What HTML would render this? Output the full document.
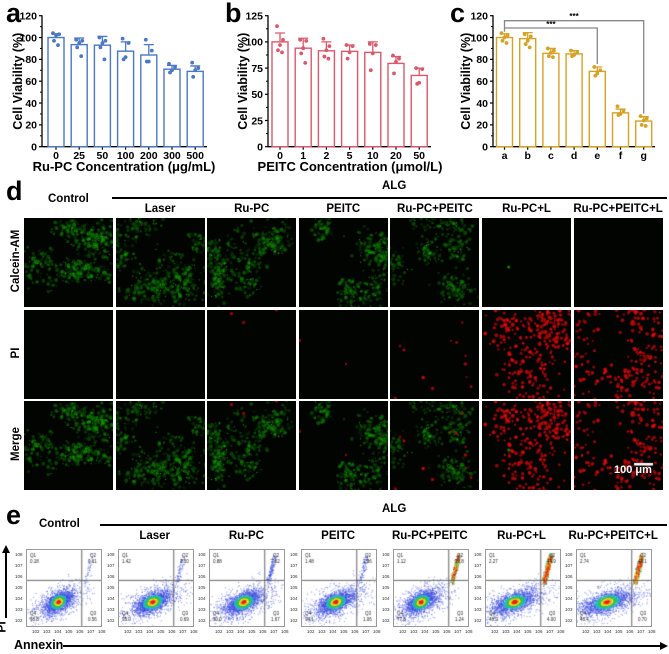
<!DOCTYPE html>
<html><head><meta charset="utf-8">
<style>
html,body{margin:0;padding:0;background:#fff;}
#fig{position:relative;width:669px;height:654px;overflow:hidden;font-family:"Liberation Sans",Arial,sans-serif;}
.t{position:absolute;font-weight:bold;color:#000;white-space:nowrap;}
canvas{position:absolute;}
</style></head>
<body>
<div id="fig">
<svg id="charts" width="669" height="180" style="position:absolute;left:0;top:0" font-family="Liberation Sans, Arial, sans-serif"></svg>

<div class="t" style="left:6px;top:-2px;font-size:27px">a</div>
<div class="t" style="left:225px;top:-2px;font-size:27px">b</div>
<div class="t" style="left:450px;top:-2px;font-size:27px">c</div>
<div class="t" style="left:6px;top:176px;font-size:27px">d</div>
<div class="t" style="left:6px;top:500px;font-size:27px">e</div>

<div class="t" style="left:48px;top:193px;font-size:11.5px">Control</div>
<div class="t" style="left:382px;top:180px;font-size:11.5px">ALG</div>
<div style="position:absolute;left:112px;top:197px;width:555px;height:1.5px;background:#000"></div>
<div class="t" style="left:-19px;top:255px;font-size:11.5px;transform:rotate(-90deg);width:70px;text-align:center">Calcein-AM</div>
<div class="t" style="left:-19px;top:347px;font-size:11.5px;transform:rotate(-90deg);width:70px;text-align:center">PI</div>
<div class="t" style="left:-19px;top:438px;font-size:11.5px;transform:rotate(-90deg);width:70px;text-align:center">Merge</div>

<div class="t" style="left:39px;top:518px;font-size:11.5px">Control</div>
<div class="t" style="left:382px;top:503px;font-size:11.5px">ALG</div>
<div style="position:absolute;left:100px;top:524px;width:567px;height:1.5px;background:#000"></div>
<div class="t" style="left:14px;top:638px;font-size:12.5px">Annexin</div>
<div style="position:absolute;left:63px;top:645px;width:598px;height:2px;background:#000"></div>
<div style="position:absolute;left:660px;top:642px;width:0;height:0;border-top:4px solid transparent;border-bottom:4px solid transparent;border-left:8px solid #000"></div>
<div style="position:absolute;left:5px;top:552px;width:2px;height:66px;background:#000"></div>
<div style="position:absolute;left:2px;top:545px;width:0;height:0;border-left:4px solid transparent;border-right:4px solid transparent;border-bottom:8px solid #000"></div>
<div class="t" style="left:-4px;top:620px;font-size:12px;transform:rotate(-90deg)">PI</div>
</div>

<script>
// ---------- chart data ----------
const catsA=['0','25','50','100','200','300','500'];
const meansA=[100,93.5,93,87.5,84,71,69];
const errA=[3.5,6,8,8.5,9.5,3.5,5];
const dotsA=[[104,103,102,97,93],[98,97,95,91,83],[100,97,95,91,80],[99,95,82,80],[98,88,78,78],[76,73,70,68],[77,72,70,64]];
const ticksA=[0,20,40,60,80,100,120];

const catsB=['0','1','2','5','10','20','50'];
const meansB=[100,94,91.5,91,90,79.5,68];
const errB=[8.5,9.5,8.5,6,10,6.5,7];
const dotsB=[[115,102,97,92,90],[102,101,94,89,80],[103,96,92,86,84],[97,96,90,84],[98,97,89,73],[87,84,81,70],[75,74,61,60]];
const ticksB=[0,25,50,75,100,125];

const catsC=['a','b','c','d','e','f','g'];
const meansC=[100,99,85.5,85,69,31,23.5];
const errC=[3.5,5.5,4.5,3,4,3.5,4];
const dotsC=[[104,102,100,97,95],[103,101,97,94,91],[90,88,86,83,82],[88,86,84,83],[73,70,67,65],[37,33,30,29],[28,26,24,20,19]];
const ticksC=[0,20,40,60,80,100,120];

const flowGroups=['Control','Laser','Ru-PC','PEITC','Ru-PC+PEITC','Ru-PC+L','Ru-PC+PEITC+L'];
const flowQ1=['0.18','1.42','0.88','1.48','1.12','2.27','2.74'];
const flowQ2=['0.61','2.50','7.02','3.36','19.8','44.9','48.1'];
const flowQ3=['0.56','0.69','1.67','1.06','1.24','4.00','0.70'];
const flowQ4=['98.8','95.0','90.0','94.1','77.8','48.9','48.4'];

const NS='http://www.w3.org/2000/svg';
const svg=document.getElementById('charts');
function mk(tag,attrs,parent){const e=document.createElementNS(NS,tag);for(const k in attrs)e.setAttribute(k,attrs[k]);(parent||svg).appendChild(e);return e;}

const Y0=146.7, YH=131;
function drawBars(p){
  const g=mk('g',{});
  
  
  const ymax=p.ticks[p.ticks.length-1];
  const y=v=>Y0-v/ymax*YH;
  const x=i=>p.firstX+i*p.pitch;
  const ya=mk('line',{x1:p.axisX,y1:Y0,x2:p.axisX,y2:y(ymax)-0.5,stroke:'#000','stroke-width':1.3},g);
  
  
  const xa=mk('line',{x1:p.axisX,y1:Y0,x2:p.endX,y2:Y0,stroke:'#000','stroke-width':1.3},g);
  
  
  const step=p.ticks[1]-p.ticks[0];
  p.ticks.forEach((t,k)=>{
    mk('line',{x1:p.axisX-3,y1:y(t),x2:p.axisX,y2:y(t),stroke:'#000','stroke-width':1.2},g);
    if(k<p.ticks.length-1) mk('line',{x1:p.axisX-2,y1:y(t+step/2),x2:p.axisX,y2:y(t+step/2),stroke:'#000','stroke-width':1},g);
    const tl=mk('text',{x:p.axisX-5,y:y(t)+3.8,'text-anchor':'end','font-size':10.5,'font-weight':'bold'},g);
    tl.textContent=t;
    
    
  });
  p.cats.forEach((c,i)=>{
    const cx=x(i);
    mk('line',{x1:cx,y1:Y0,x2:cx,y2:Y0+3,stroke:'#000','stroke-width':1.2},g);
    const xl=mk('text',{x:cx,y:159,'text-anchor':'middle','font-size':10.5,'font-weight':'bold'},g);
    xl.textContent=c;
    
    
    const bar=mk('rect',{x:cx-8,y:y(p.means[i]),width:16,height:Y0-y(p.means[i]),fill:'#fff',stroke:p.color,'stroke-width':1.4},g);
    
    
    const top=y(p.means[i]+p.errs[i]);
    const eb=mk('path',{d:`M${cx},${y(p.means[i])}V${top}M${cx-5},${top}H${cx+5}`,stroke:p.color,'stroke-width':1.3,fill:'none'},g);
    
    
    const jit=[-3,3,0,-2,2];
    p.dots[i].forEach((v,j)=>{
      const d=mk('circle',{cx:cx+jit[j%5],cy:y(v),r:1.9,fill:p.color},g);
      
      
    });
  });
  const yt=mk('text',{x:0,y:0,'text-anchor':'middle','font-size':12.5,'font-weight':'bold',transform:`translate(${p.ytx},${(Y0+y(ymax))/2}) rotate(-90)`},g);
  yt.textContent='Cell Viability (%)';
  
  
  if(p.xtitle){
    const xt=mk('text',{x:p.xtx,y:171,'text-anchor':'middle','font-size':13,'font-weight':'bold'},g);
    xt.textContent=p.xtitle;
    
    
  }
  return {x,y};
}
drawBars({name:'chart-a',axisX:42,firstX:56,pitch:23.2,endX:207,ticks:ticksA,cats:catsA,means:meansA,errs:errA,dots:dotsA,color:'#4a78c2',ytx:22,xtitle:'Ru-PC Concentration (μg/mL)',xtx:124});
drawBars({name:'chart-b',axisX:268,firstX:280,pitch:23.2,endX:431,ticks:ticksB,cats:catsB,means:meansB,errs:errB,dots:dotsB,color:'#d9596c',ytx:247,xtitle:'PEITC Concentration (μmol/L)',xtx:350});
const sc=drawBars({name:'chart-c',axisX:493,firstX:504.5,pitch:23.2,endX:655,ticks:ticksC,cats:catsC,means:meansC,errs:errC,dots:dotsC,color:'#d4a224',ytx:470});
const b1=mk('path',{d:`M${sc.x(0)},${sc.y(meansC[0]+errC[0])-2}V20.7H${sc.x(6)}V${sc.y(meansC[6]+errC[6])-3}`,stroke:'#888','stroke-width':1.3,fill:'none'});


const b2=mk('path',{d:`M${sc.x(0)},28H${sc.x(4)}V${sc.y(meansC[4]+errC[4])-3}`,stroke:'#888','stroke-width':1.3,fill:'none'});


const s1=mk('text',{x:(sc.x(0)+sc.x(6))/2,y:19,'text-anchor':'middle','font-size':8,'font-weight':'bold'});
s1.textContent='***';


const s2=mk('text',{x:(sc.x(0)+sc.x(4))/2,y:27,'text-anchor':'middle','font-size':8,'font-weight':'bold'});
s2.textContent='***';



// ---------- microscopy ----------
const fig=document.getElementById('fig');
function rng(seed){let s=seed>>>0||1;return()=>{s^=s<<13;s>>>=0;s^=s>>17;s^=s<<5;s>>>=0;return s/4294967296;};}
function gauss(r){return (r()+r()+r()-1.5)*1.6;}
const greenLvl=[1,1,0.8,0.65,0.6,0.02,0];
const redLvl=[0,0,0.012,0.006,0.035,1,0.8];
function drawGreen(ctx,w,h,seed,lvl){
  const r=rng(seed*7919+11);
  const nc=Math.round(lvl*11);
  for(let k=0;k<nc;k++){
    const cx=r()*w,cy=r()*h,sx=5+r()*9,sy=5+r()*9;
    for(let j=0;j<45;j++){
      const px=cx+gauss(r)*sx,py=cy+gauss(r)*sy;
      const g=70+Math.floor(r()*150);
      ctx.fillStyle=`rgba(${Math.floor(g*0.12)},${g},0,0.35)`;
      ctx.beginPath();ctx.arc(px,py,0.7+r()*1.4,0,7);ctx.fill();
    }
    ctx.fillStyle='rgba(60,200,20,0.8)';
    for(let j=0;j<6;j++){ctx.fillRect(cx+gauss(r)*sx,cy+gauss(r)*sy,1,1);}
  }
  if(lvl>0&&lvl<0.1){ctx.fillStyle='rgba(40,160,0,0.8)';ctx.beginPath();ctx.arc(w*0.3,h*0.55,1.5,0,7);ctx.fill();}
}
function drawRed(ctx,w,h,seed,lvl){
  const r=rng(seed*104729+7);
  const n=Math.round(lvl*330);
  const centers=[];for(let k=0;k<12;k++)centers.push([r()*w,r()*h]);
  for(let j=0;j<n;j++){
    const c=centers[Math.floor(r()*centers.length)];
    const px=c[0]+gauss(r)*13,py=c[1]+gauss(r)*13;
    const v=150+Math.floor(r()*100);
    ctx.fillStyle=`rgba(${v},10,10,0.8)`;
    ctx.beginPath();ctx.arc(px,py,1+r()*1,0,7);ctx.fill();
  }
}
const colNames=['control','laser','ru-pc','peitc','ru-pc-peitc','ru-pc-l','ru-pc-peitc-l'];
const rowNames=['calcein-am','pi','merge'];
const headerTexts=['Laser','Ru-PC','PEITC','Ru-PC+PEITC','Ru-PC+L','Ru-PC+PEITC+L'];
for(let c=0;c<7;c++){
  const left=24+c*91.6;
  if(c>0){
    const hd=document.createElement('div');
    hd.className='t';hd.style.cssText=`left:${left-20}px;top:203px;width:129px;text-align:center;font-size:11.5px`;
    hd.textContent=headerTexts[c-1];
    
    
    fig.appendChild(hd);
  }
  for(let rI=0;rI<3;rI++){
    const cv=document.createElement('canvas');
    cv.width=89;cv.height=89;
    cv.style.left=left+'px';cv.style.top=(218+rI*91.6)+'px';
    
    
    fig.appendChild(cv);
    const ctx=cv.getContext('2d');
    ctx.fillStyle='#020402';ctx.fillRect(0,0,89,89);
    if(rI!==1)drawGreen(ctx,89,89,c+1,greenLvl[c]);
    if(rI!==0)drawRed(ctx,89,89,c+1,redLvl[c]);
    if(rI===2&&c===6){
      ctx.fillStyle='#fff';ctx.fillRect(60,62,19,2.5);
    }
  }
}
const sb=document.createElement('div');
sb.className='t';sb.style.cssText='left:614px;top:464px;font-size:11px;color:#fff';
sb.textContent='100 μm';


fig.appendChild(sb);

// ---------- flow cytometry ----------
const popCx=[0.42,0.45,0.45,0.45,0.36,0.38,0.40];
const popSx=[0.13,0.16,0.16,0.16,0.14,0.19,0.21];
function colorFor(d){
  if(d<0.18)return'#e8201a';if(d<0.3)return'#f5a020';if(d<0.42)return'#e6e62a';
  if(d<0.62)return'#3cc040';if(d<0.85)return'#20b8c8';return'#4050e0';
}
for(let i=0;i<7;i++){
  const left=26+i*91.7, top=549, W=74, H=76;
  if(i>0){
    const hd=document.createElement('div');
    hd.className='t';hd.style.cssText=`left:${left-27}px;top:530px;width:128px;text-align:center;font-size:11.5px`;
    hd.textContent=flowGroups[i];
    
    
    fig.appendChild(hd);
  }
  const cv=document.createElement('canvas');
  cv.width=W;cv.height=H;cv.style.left=left+'px';cv.style.top=top+'px';
  cv.style.border='0.8px solid #999';cv.style.boxSizing='border-box';
  
  
  fig.appendChild(cv);
  const ctx=cv.getContext('2d');
  ctx.fillStyle='#fff';ctx.fillRect(0,0,W,H);
  const r=rng(i*31+5);
  const pts=[];
  const ang=-0.55;
  for(let k=0;k<2200;k++){
    const wide=r()<0.35?1.9:1;
    const u=gauss(r)*wide,v=gauss(r)*0.5*wide;
    const px=u*Math.cos(ang)-v*Math.sin(ang), py=u*Math.sin(ang)+v*Math.cos(ang);
    pts.push([W*popCx[i]+px*W*popSx[i],H*0.68+py*H*0.13,Math.hypot(u,v/0.5*0.7)]);
  }
  const q2=parseFloat(flowQ2[i]);
  const nq=Math.round(30+q2*18);
  for(let k=0;k<nq;k++){
    const t=r();
    pts.push([W*(0.78+t*0.09)+gauss(r)*1.3,H*(0.42-t*0.34)+gauss(r)*2,q2>15?Math.abs(gauss(r))*0.7+0.1:1.3+r()]);
  }
  pts.sort((a,b)=>b[2]-a[2]);
  pts.forEach(p=>{ctx.fillStyle=colorFor(p[2]);ctx.globalAlpha=p[2]>0.85?0.6:1;ctx.fillRect(p[0],p[1],1,1);});
  ctx.globalAlpha=1;
  ctx.strokeStyle='#555';ctx.lineWidth=0.9;
  ctx.beginPath();ctx.moveTo(W*0.74,0);ctx.lineTo(W*0.74,H);ctx.moveTo(0,H*0.4);ctx.lineTo(W,H*0.4);ctx.stroke();
  ctx.fillStyle='#222';ctx.font='4.5px Liberation Sans';
  ctx.fillText('Q1',3,7);ctx.fillText(flowQ1[i],3,13);
  ctx.fillText('Q2',W-11,7);ctx.fillText(flowQ2[i],W-13,13);
  ctx.fillText('Q4',3,H-11);ctx.fillText(flowQ4[i],3,H-5);
  ctx.fillText('Q3',W-11,H-11);ctx.fillText(flowQ3[i],W-13,H-5);
  const ax=document.createElementNS(NS,'svg');
  ax.setAttribute('width',W+14);ax.setAttribute('height',H+12);
  ax.style.cssText=`position:absolute;left:${left-12}px;top:${top}px;overflow:visible`;
  
  
  fig.appendChild(ax);
  ['2','3','4','5','6','7','8'].forEach((e,k)=>{
    const ty=H-3-k*11;
    const t=mk('text',{x:1,y:ty,'font-size':4.5,fill:'#333'},ax);t.textContent='10'+e;
    const tx=mk('text',{x:12+6+k*11,y:H+8,'font-size':4.5,fill:'#333'},ax);tx.textContent='10'+e;
  });
}
</script>
</body></html>
